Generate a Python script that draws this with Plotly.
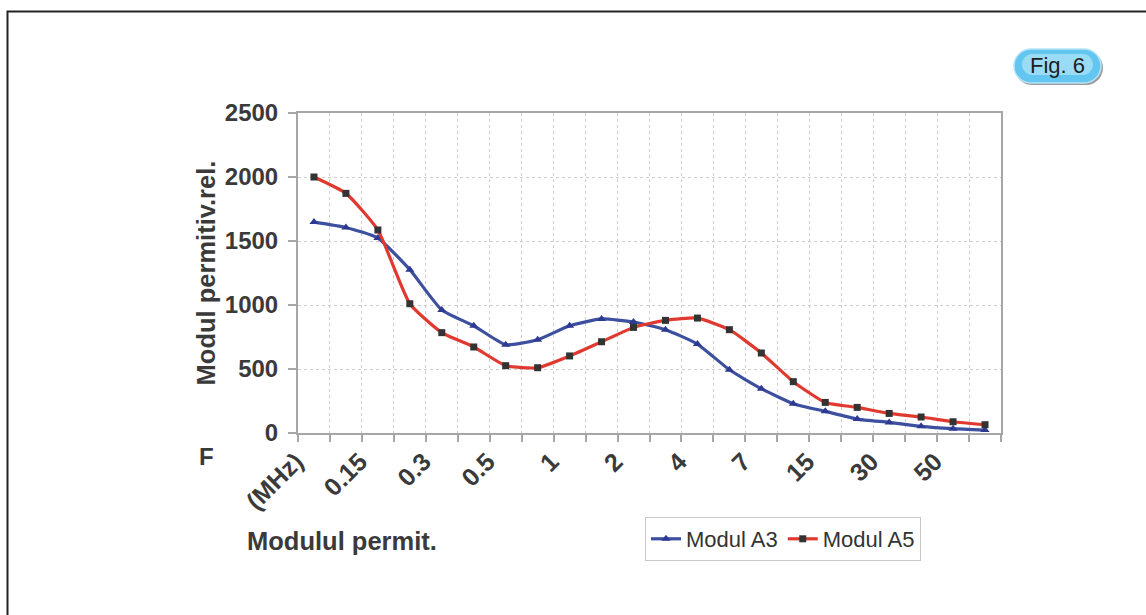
import plotly.graph_objects as go

# ---- data ----
cat_index = list(range(22))
modul_a3 = [1648, 1606, 1523, 1276, 961, 838, 690, 729, 838, 891, 867, 807,
            695, 494, 346, 229, 169, 109, 83, 52, 34, 23]
modul_a5 = [2000, 1872, 1586, 1010, 784, 672, 526, 510, 602, 713, 825, 880,
            898, 807, 625, 401, 239, 200, 153, 125, 88, 65]
tick_pos = [0, 2, 4, 6, 8, 10, 12, 14, 16, 18, 20]
tick_text = ["(MHz)", "0.15", "0.3", "0.5", "1", "2", "4", "7", "15", "30", "50"]

W, H = 1146, 615
L, R, T, B = 298, 145, 113, 182
PW, PH = W - L - R, H - T - B

def px(x):
    return (x - L) / PW

def py(y):
    return 1 - (y - T) / PH

FONT = "Liberation Sans, Arial, sans-serif"
TXT = "#3a3a3a"

fig = go.Figure()
fig.add_trace(go.Scatter(
    x=cat_index, y=modul_a3, name="Modul A3", mode="lines+markers",
    line=dict(color="#3d4f9f", width=3.2, shape="spline", smoothing=0.5),
    marker=dict(symbol="triangle-up", size=8, color="#2e3a92"),
))
fig.add_trace(go.Scatter(
    x=cat_index, y=modul_a5, name="Modul A5", mode="lines+markers",
    line=dict(color="#e03a30", width=3.2, shape="spline", smoothing=0.5),
    marker=dict(symbol="square", size=7, color="#333333"),
))

fig.update_layout(
    width=W, height=H,
    margin=dict(l=L, r=R, t=T, b=B, autoexpand=False),
    paper_bgcolor="white", plot_bgcolor="white",
    font=dict(family=FONT, color=TXT),
    showlegend=True,
    legend=dict(
        orientation="h", x=px(645), y=py(517), xanchor="left", yanchor="top",
        bordercolor="#c8c8c8", borderwidth=1, bgcolor="white",
        font=dict(size=22, color="#333333", family=FONT),
        itemwidth=30, tracegroupgap=0,
    ),
    xaxis=dict(
        range=[-0.5, 21.5], tickmode="array", tickvals=tick_pos, ticktext=tick_text,
        tickangle=-45, ticks="", showgrid=False, zeroline=False,
        tickfont=dict(size=25, family=FONT, color=TXT, weight="bold"),
        ticklabelshift=-18, ticklabelstandoff=2,
        showline=True, linecolor="#a6a6a6", linewidth=2, mirror=True,
        minor=dict(tickmode="linear", tick0=-0.5, dtick=1, ticks="outside",
                   ticklen=7, tickcolor="#a6a6a6", tickwidth=1.5,
                   showgrid=True, gridcolor="#cccccc", griddash="dot", gridwidth=1),
        fixedrange=True,
    ),
    yaxis=dict(
        range=[0, 2500], tickmode="linear", tick0=0, dtick=500,
        ticks="outside", ticklen=8, tickcolor="#a6a6a6", tickwidth=1.5,
        showgrid=True, gridcolor="#cccccc", griddash="dot", gridwidth=1,
        zeroline=False, showline=True, linecolor="#a6a6a6", linewidth=2, mirror=True,
        tickfont=dict(size=24, family=FONT, color=TXT, weight="bold"),
        ticklabelstandoff=5,
        title=dict(text="Modul permitiv.rel.", standoff=2,
                   font=dict(size=25.5, family=FONT, color=TXT, weight="bold")),
        fixedrange=True,
    ),
)

# annotations
fig.add_annotation(text="<b>F</b>", xref="paper", yref="paper", x=px(206), y=py(456),
                   showarrow=False, font=dict(size=24, family=FONT, color=TXT),
                   xanchor="center", yanchor="middle")
fig.add_annotation(text="<b>Modulul permit.</b>", xref="paper", yref="paper",
                   x=px(245), y=py(541), showarrow=False,
                   font=dict(size=25.5, family=FONT, color=TXT),
                   xanchor="left", yanchor="middle")

# Fig. 6 badge (pill)
bx0, bx1, by0, by1 = 1014, 1101, 49, 83

def P(x, y):
    return f"{px(x):.5f},{py(y):.5f}"

def pill(x0, x1, y0, y1):
    rr = (y1 - y0) / 2
    kk = 0.5523 * rr
    ym = (y0 + y1) / 2
    return (f"M {P(x0 + rr, y0)} L {P(x1 - rr, y0)} "
            f"C {P(x1 - rr + kk, y0)} {P(x1, ym - kk)} {P(x1, ym)} "
            f"C {P(x1, ym + kk)} {P(x1 - rr + kk, y1)} {P(x1 - rr, y1)} "
            f"L {P(x0 + rr, y1)} "
            f"C {P(x0 + rr - kk, y1)} {P(x0, ym + kk)} {P(x0, ym)} "
            f"C {P(x0, ym - kk)} {P(x0 + rr - kk, y0)} {P(x0 + rr, y0)} Z")

fig.add_shape(type="path", xref="paper", yref="paper", path=pill(bx0 + 1, bx1 + 2, by0 + 2, by1 + 2),
              fillcolor="#9a9a9a", line=dict(width=0), layer="above")
fig.add_shape(type="path", xref="paper", yref="paper", path=pill(bx0, bx1, by0, by1),
              fillcolor="#62c6f0", line=dict(color="#b8e4f6", width=1.5), layer="above")
fig.add_shape(type="path", xref="paper", yref="paper", path=pill(bx0 + 8, bx1 - 8, by0 + 5, by1 - 8),
              fillcolor="rgba(200,238,252,0.55)", line=dict(width=0), layer="above")
fig.add_annotation(text="Fig. 6", xref="paper", yref="paper",
                   x=px((bx0 + bx1) / 2), y=py((by0 + by1) / 2), showarrow=False,
                   font=dict(size=22, family=FONT, color="#1e1e1e"),
                   xanchor="center", yanchor="middle")

# outer frame
fig.add_shape(type="rect", xref="paper", yref="paper",
              x0=px(7.5), x1=px(1300), y0=py(11.5), y1=py(800),
              line=dict(color="#222222", width=2), fillcolor="rgba(0,0,0,0)", layer="above")

fig.write_html("out.html", config={"displayModeBar": False},
               post_script="document.body.style.margin='0';document.body.style.overflow='hidden';")
